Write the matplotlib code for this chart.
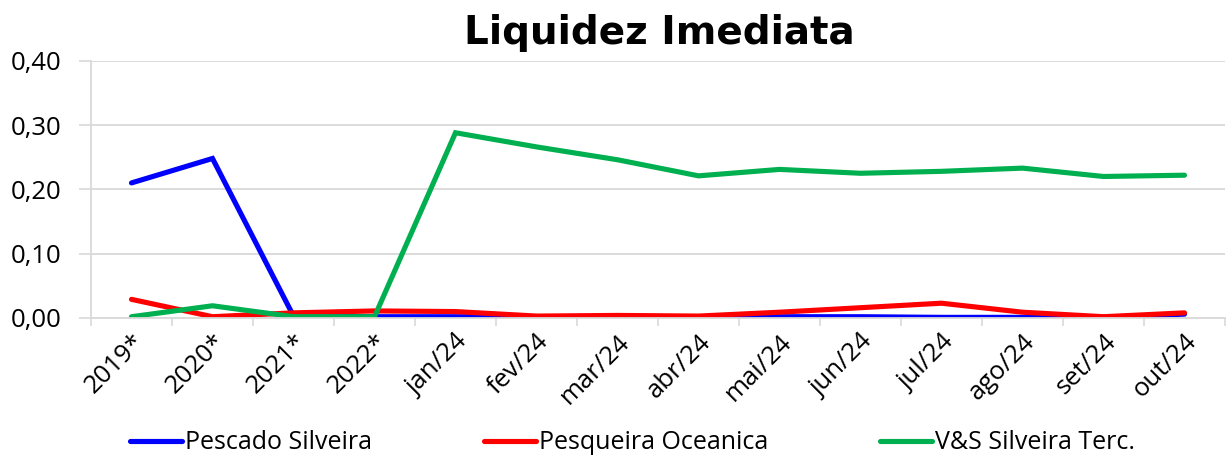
import matplotlib
matplotlib.use("Agg")
import matplotlib.pyplot as plt
from matplotlib.ticker import FuncFormatter
from matplotlib import font_manager

categories = ["2019*", "2020*", "2021*", "2022*", "jan/24", "fev/24", "mar/24",
              "abr/24", "mai/24", "jun/24", "jul/24", "ago/24", "set/24", "out/24"]
pescado = [0.210, 0.248, 0.003, 0.002, 0.002, 0.002, 0.002,
           0.002, 0.002, 0.002, 0.001, 0.001, 0.001, 0.006]
pesqueira = [0.029, 0.002, 0.008, 0.011, 0.010, 0.003, 0.004,
             0.003, 0.009, 0.016, 0.023, 0.009, 0.002, 0.008]
vs_silveira = [0.002, 0.019, 0.002, 0.002, 0.288, 0.266, 0.246,
               0.221, 0.231, 0.225, 0.228, 0.233, 0.220, 0.222]
series_names = ["Pescado Silveira", "Pesqueira Oceanica", "V&S Silveira Terc."]
series_colors = ["#0000FF", "#FF0000", "#00B050"]
yticks = [0.0, 0.1, 0.2, 0.3, 0.4]

names = {f.name for f in font_manager.fontManager.ttflist}
legend_family = "Liberation Sans Narrow" if "Liberation Sans Narrow" in names else "Open Sans"

fig = plt.figure(figsize=(12.27, 4.59), dpi=100)
ax = fig.add_axes([91/1227, 1-318/459, (1225-91)/1227, (318-60.7)/459])

x = list(range(len(categories)))
for vals, name, col in zip([pescado, pesqueira, vs_silveira], series_names, series_colors):
    ax.plot(x, vals, color=col, lw=3.7, label=name, solid_capstyle="round",
            solid_joinstyle="miter")

ax.set_xlim(-0.5, len(categories) - 0.5)
ax.set_ylim(0, 0.4)
ax.set_yticks(yticks)
ax.yaxis.set_major_formatter(FuncFormatter(lambda v, p: f"{v:.2f}".replace(".", ",")))
ax.set_xticks(x)
ax.set_xticklabels(categories, rotation=45, ha="right", rotation_mode="anchor",
                   fontsize=18.5, family="Open Sans")
ax.set_xticks([i - 0.5 for i in range(len(categories) + 1)], minor=True)
ax.tick_params(axis="x", which="major", length=0, pad=8)
ax.tick_params(axis="x", which="minor", length=6, width=1.2, color="#D9D9D9")
ax.tick_params(axis="y", length=9, width=1.2, color="#D9D9D9", labelsize=18.5, pad=12)
for lab in ax.get_yticklabels():
    lab.set_family("Open Sans")
ax.grid(axis="y", color="#D9D9D9", lw=1.3)
ax.set_axisbelow(True)
for s in ["top", "right"]:
    ax.spines[s].set_visible(False)
ax.spines["left"].set_color("#D9D9D9")
ax.spines["left"].set_linewidth(1.3)
ax.spines["bottom"].set_color("#D9D9D9")
ax.spines["bottom"].set_linewidth(1.3)

fig.text(0.537, 0.928, "Liquidez Imediata", ha="center", va="center",
         fontsize=28, fontweight="bold", family="DejaVu Sans")

leg = fig.legend(loc="center", bbox_to_anchor=(0.5155, 0.035), ncol=3, frameon=False,
                 prop={"family": legend_family, "size": 18},
                 handlelength=2.1, handletextpad=0.12, columnspacing=4.45,
                 borderpad=0)

fig.savefig("out.png", dpi=100)
